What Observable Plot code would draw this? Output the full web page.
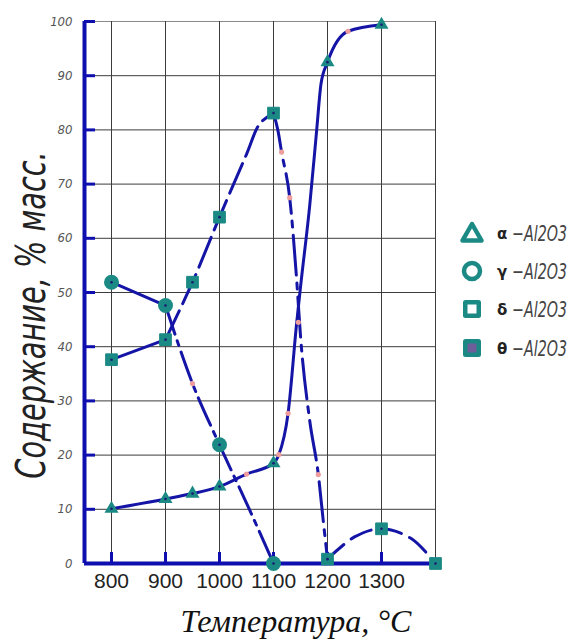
<!DOCTYPE html>
<html>
<head>
<meta charset="utf-8">
<script src="https://cdn.jsdelivr.net/npm/d3@7"></script>
<script src="https://cdn.jsdelivr.net/npm/@observablehq/plot@0.6"></script>
<style>
  html, body { margin: 0; padding: 0; background: #fff; }
  #wrap { position: relative; width: 578px; height: 639px; overflow: hidden; }
  #wrap svg.plot { position: absolute; left: 0; top: 0; }
  #overlay { position: absolute; left: 0; top: 0; pointer-events: none; }
</style>
</head>
<body>
<div id="wrap"></div>
<script>
// ---------- data ----------
const xTicks = [800, 900, 1000, 1100, 1200, 1300];
const xGrid = [800, 900, 1000, 1100, 1200, 1300, 1400];
const yTicks = [0, 10, 20, 30, 40, 50, 60, 70, 80, 90, 100];

// marker values (temperature, % mass)
const alphaPts = [[800, 10.1], [900, 11.9], [950, 12.9], [1000, 14.2], [1100, 18.5], [1200, 92.5], [1300, 99.4]];
const gammaPts = [[800, 51.9], [900, 47.6], [1000, 21.9], [1100, 0]];
const deltaPts = [[800, 37.6], [900, 41.3], [950, 51.9], [1000, 63.9], [1100, 83.1]];
const thetaPts = [[1200, 0.8], [1300, 6.4], [1400, 0]];

// traced curves
const alphaCurve = [[800, 10.1], [900, 11.9], [950, 12.9], [1000, 14.2], [1050, 16.5], [1100, 18.5], [1110, 20.1], [1127, 27.7], [1143, 44.5], [1150, 51], [1167, 66], [1180, 80], [1188, 88.5], [1200, 92.5], [1238, 98.2], [1300, 99.4]];
const gammaSolid = [[800, 51.9], [900, 47.6]];
const gammaDash = [[900, 47.6], [950, 33.2], [1000, 21.9], [1053, 10.5], [1100, 0]];
const deltaSolid = [[800, 37.6], [900, 41.3]];
const deltaDash = [[900, 41.3], [950, 51.9], [1000, 63.9], [1050, 75.5], [1075, 81.2], [1100, 83.1]];
const deltaDashDot = [[1100, 83.1], [1108, 80], [1115, 75.9], [1130, 67.5], [1143, 52.2], [1150, 42], [1167, 26.4], [1183, 16.4], [1192, 8], [1200, 0.8]];
const thetaDash = [[1200, 0.8], [1250, 4.9], [1300, 6.4], [1355, 4.6], [1400, 0]];

// small pink control points
const pinkPts = [[950, 33.2], [1050, 16.5], [1110, 20.1], [1127, 27.7], [1146, 44.5], [1115, 75.9], [1130, 67.5], [1183, 16.4], [1238, 98.2]];

const legendItems = ["α", "γ", "δ", "θ"];
const legendSuffix = "−Al2O3";
const xLabel = "Температура, °C";
const yLabel = "Содержание, % масс.";

// ---------- styles ----------
const BLUE = "#1414a6";
const AXIS = "#0f0fb0";
const TEAL = "#1b8a85";
const GRID = "#3c3c3c";
const PINK = "#ef9c9c";
const TECH = "'Liberation Sans Narrow', 'DejaVu Sans Condensed', 'DejaVu Sans', sans-serif";

const X = d => d[0], Y = d => d[1];
const lineOpts = (dash, curve = "monotone-x") => ({x: X, y: Y, curve, stroke: BLUE, strokeWidth: 3, strokeDasharray: dash, strokeLinecap: "round"});

const plot = Plot.plot({
  width: 578,
  height: 639,
  marginLeft: 84,
  marginRight: 143,
  marginTop: 21,
  marginBottom: 76,
  x: {domain: [750, 1400]},
  y: {domain: [0, 100]},
  style: {background: "transparent", overflow: "visible"},
  marks: [
    Plot.ruleY(yTicks.filter(v => v > 0 && v < 100), {y: d => d, stroke: GRID, strokeWidth: 1}),
    Plot.ruleY([100], {stroke: "#8a8a8a", strokeWidth: 1.2}),
    Plot.ruleX(xGrid, {x: d => d, stroke: GRID, strokeWidth: 1}),

    Plot.line(alphaCurve, lineOpts(null)),
    Plot.line(gammaSolid, lineOpts(null)),
    Plot.line(gammaDash, lineOpts("30,7,5,7")),
    Plot.line(deltaSolid, lineOpts(null)),
    Plot.line(deltaDash, lineOpts("32,8", "catmull-rom")),
    Plot.line(deltaDashDot, lineOpts("40,8,6,8")),
    Plot.line(thetaDash, lineOpts("22,9", "catmull-rom")),

    Plot.dot(pinkPts, {x: X, y: Y, r: 2.6, fill: PINK}),

    // axes (blue)
    Plot.ruleX([750], {stroke: AXIS, strokeWidth: 4}),
    Plot.ruleY([0], {stroke: AXIS, strokeWidth: 4, x1: 750, x2: 1400}),
    Plot.axisY({ticks: yTicks, tickSize: -11, stroke: AXIS, strokeWidth: 3, text: null}),
    Plot.axisX({ticks: xTicks, tickSize: -11, stroke: AXIS, strokeWidth: 3, text: null}),
    Plot.axisY({ticks: yTicks, tickSize: 0, tickPadding: 12, label: null, fill: "#555",
      fontSize: 13, fontStyle: "italic", fontWeight: 300, fontFamily: TECH}),
    Plot.axisX({ticks: xTicks, tickSize: 0, tickPadding: 10, label: null, fill: "#222",
      fontSize: 21, fontFamily: "'Liberation Sans', Arial, sans-serif", tickFormat: d => String(d)}),

    // markers
    Plot.dot(alphaPts, {x: X, y: Y, symbol: "triangle", r: 5.2, fill: TEAL}),
    Plot.dot(gammaPts, {x: X, y: Y, symbol: "circle", r: 7.5, fill: TEAL}),
    Plot.dot(deltaPts, {x: X, y: Y, symbol: "square", r: 6.6, fill: TEAL, stroke: TEAL, strokeWidth: 1, strokeLinejoin: "round"}),
    Plot.dot(thetaPts, {x: X, y: Y, symbol: "square", r: 6.6, fill: TEAL, stroke: TEAL, strokeWidth: 1, strokeLinejoin: "round"}),
    Plot.dot([...alphaPts, ...gammaPts, ...deltaPts, ...thetaPts], {x: X, y: Y, r: 1.3, fill: "#1a1a70"})
  ]
});
plot.classList.add("plot");
const wrap = document.getElementById("wrap");
wrap.appendChild(plot);

// ---------- overlay: axis titles and legend ----------
const ov = d3.select(wrap).append("svg").attr("id", "overlay").attr("width", 578).attr("height", 639);

ov.append("text")
  .attr("transform", "translate(45,315) rotate(-90) scale(0.8,1)")
  .attr("text-anchor", "middle")
  .attr("font-family", TECH)
  .attr("font-style", "italic")
  .attr("font-weight", 200)
  .attr("font-size", 40)
  .attr("fill", "#222")
  .text(yLabel);

ov.append("text")
  .attr("x", 296).attr("y", 632)
  .attr("text-anchor", "middle")
  .attr("font-family", "'Liberation Serif', 'Times New Roman', 'DejaVu Serif', serif")
  .attr("font-style", "italic")
  .attr("font-size", 32)
  .attr("fill", "#111")
  .text(xLabel);

const rowsY = [233, 271, 309, 348];
const mx = 472;
const lg = ov.append("g");
// triangle
lg.append("path").attr("d", `M${mx},${rowsY[0] - 9} L${mx + 9.5},${rowsY[0] + 7.5} L${mx - 9.5},${rowsY[0] + 7.5} Z`)
  .attr("fill", "none").attr("stroke", TEAL).attr("stroke-width", 4.5).attr("stroke-linejoin", "round");
// circle
lg.append("circle").attr("cx", mx).attr("cy", rowsY[1]).attr("r", 8).attr("fill", "none").attr("stroke", TEAL).attr("stroke-width", 4.5);
// open square
lg.append("rect").attr("x", mx - 9).attr("y", rowsY[2] - 9).attr("width", 18).attr("height", 18).attr("rx", 2.5).attr("fill", TEAL);
lg.append("rect").attr("x", mx - 4.5).attr("y", rowsY[2] - 4.5).attr("width", 9).attr("height", 9).attr("fill", "#fff");
// filled square with purple center
lg.append("rect").attr("x", mx - 9).attr("y", rowsY[3] - 9).attr("width", 18).attr("height", 18).attr("rx", 2.5).attr("fill", TEAL);
lg.append("rect").attr("x", mx - 4.5).attr("y", rowsY[3] - 4.5).attr("width", 9).attr("height", 9).attr("fill", "#6e5f9c");

legendItems.forEach((g, i) => {
  lg.append("text").attr("x", 497).attr("y", rowsY[i] + 6).attr("fill", "#222")
    .attr("font-family", "'DejaVu Sans', sans-serif").attr("font-weight", "bold").attr("font-size", 15).text(g);
  lg.append("text").attr("transform", `translate(512,${rowsY[i] + 8}) scale(0.72,1)`).attr("fill", "#444")
    .attr("font-family", TECH).attr("font-style", "italic").attr("font-weight", 200).attr("font-size", 22)
    .text(legendSuffix);
});
</script>
</body>
</html>
